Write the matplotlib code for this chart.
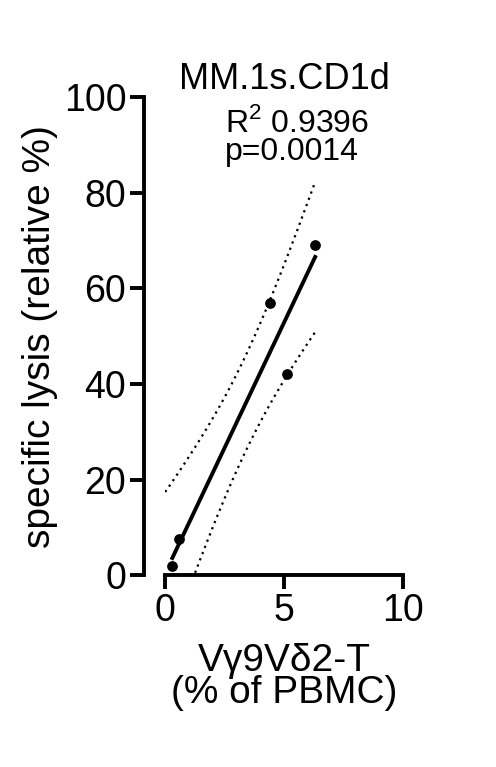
import numpy as np
import matplotlib
matplotlib.use("Agg")
import matplotlib.pyplot as plt

x = np.array([0.3, 0.6, 4.4, 5.1, 6.3])
y = np.array([2.0, 7.5, 57.0, 42.0, 69.0])
title = "MM.1s.CD1d"
xlabel = "Vγ9Vδ2-T\n(% of PBMC)"
ylabel = "specific lysis (relative %)"
stats_text = "R$^2$ 0.9396\np=0.0014"

plt.rcParams['font.family'] = ['Liberation Sans', 'DejaVu Sans']
plt.rcParams['mathtext.fontset'] = 'custom'
plt.rcParams['mathtext.rm'] = 'Liberation Sans'
fig = plt.figure(figsize=(4.96, 7.67), dpi=100)
ax = fig.add_axes([0.333, 0.250, 0.48, 0.6235])

n = len(x)
b, a = np.polyfit(x, y, 1)
xs = np.linspace(x.min(), x.max(), 100)
s = np.sqrt(np.sum((y - (a + b * x))**2) / (n - 2))
t = 2.4
xd = np.linspace(0.0, 6.3, 100)
sed = s * np.sqrt(1/n + (xd - x.mean())**2 / np.sum((x - x.mean())**2))
ax.plot(xs, a + b*xs, color='black', lw=2.8)
ax.plot(xd, a + b*xd + t*sed, color='black', lw=1.6, ls=(0, (1, 2)))
ax.plot(xd, a + b*xd - t*sed, color='black', lw=1.6, ls=(0, (1, 2)))
ax.scatter(x, y, color='black', s=45, zorder=3)

ax.set_xlim(0, 10)
ax.set_ylim(0, 100)
ax.set_xticks([0, 5, 10])
ax.set_yticks([0, 20, 40, 60, 80, 100])
ax.spines['top'].set_visible(False)
ax.spines['right'].set_visible(False)
ax.spines['left'].set_position(('outward', 15))
for sp in ax.spines.values():
    sp.set_linewidth(2.8)
ax.tick_params(width=2.8, length=10, labelsize=27, pad=3)
ax.set_title(title, fontsize=26, pad=6)
ax.set_xlabel(xlabel, fontsize=28, linespacing=0.85, labelpad=10)
ax.set_ylabel(ylabel, fontsize=28, labelpad=4)
ax.text(2.5, 98, stats_text, fontsize=23, va='top', ha='left', linespacing=0.95)
fig.savefig("out.png", dpi=100)
